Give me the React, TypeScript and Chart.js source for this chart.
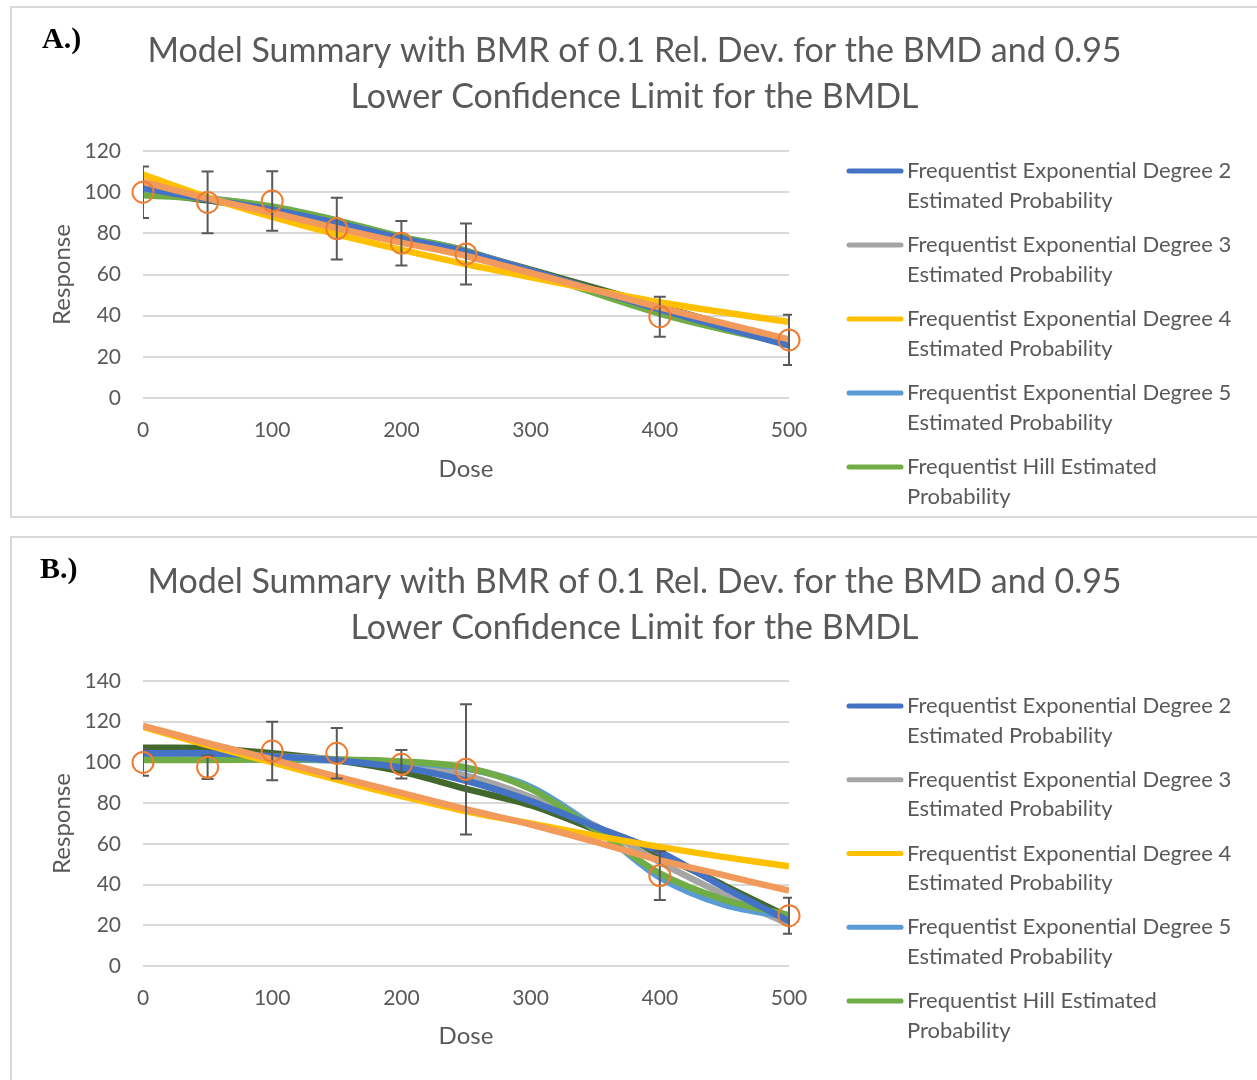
import React, { useEffect, useRef } from "react";
import { Chart, registerables } from "chart.js";

Chart.register(...registerables);

// ---------- data ----------
const obsDoses = [0, 50, 100, 150, 200, 250, 400, 500];
const curveDosesA = [0, 50, 100, 150, 200, 250, 400, 500];
const curveDosesB = [0, 50, 100, 150, 200, 250, 300, 350, 400, 450, 500];

const titleLines = [
  "Model Summary with BMR of 0.1 Rel. Dev. for the BMD and 0.95",
  "Lower Confidence Limit for the BMDL",
];
const xAxisTitle = "Dose";
const yAxisTitle = "Response";

const legendLines = [
  ["Frequentist Exponential Degree 2", "Estimated Probability"],
  ["Frequentist Exponential Degree 3", "Estimated Probability"],
  ["Frequentist Exponential Degree 4", "Estimated Probability"],
  ["Frequentist Exponential Degree 5", "Estimated Probability"],
  ["Frequentist Hill Estimated", "Probability"],
];
const extraLabels = [
  "Frequentist Linear Estimated Probability",
  "Frequentist Power Estimated Probability",
  "Observed Response",
];

// Chart A (curves at curveDosesA)
const obsA = [100, 95, 95.7, 82.3, 75.2, 70, 39.5, 28.2];
const errA = [12.5, 15, 14.5, 15, 10.8, 14.8, 9.7, 12.2];
const exp2A = [102, 96.5, 91.5, 85, 77.5, 71, 43, 25.5];
const exp3A = [101.5, 96.5, 91.5, 85, 77.5, 71, 43, 26];
const exp4A = [108.5, 97.5, 88, 79.5, 72, 65, 46.5, 37];
const exp5A = [99, 97, 92.5, 86, 78, 71.5, 41.5, 26.5];
const hillA = [98.5, 96.8, 93, 86.3, 78.3, 71.5, 41, 26];
const linearA = [105, 97, 90, 82.5, 75.5, 69, 44, 28.5];
const powerA = [100, 96, 91, 84.5, 77.5, 71, 44.5, 27];
const yMaxA = 120;

// Chart B (curves at curveDosesB)
const obsB = [100, 97.6, 105.6, 104.5, 99.1, 96.6, 44.4, 24.7];
const errB = [6.5, 5.7, 14.4, 12.4, 7, 32, 12, 8.8];
const exp2B = [104.5, 104.5, 103, 101, 97.5, 91, 81, 68.5, 56, 38.5, 22];
const exp3B = [104, 104, 103, 101.5, 99, 93.5, 83, 69, 51, 35, 20.5];
const exp4B = [117.5, 108.5, 100, 91.5, 83.5, 76, 70, 64, 58.5, 53.5, 49];
const exp5B = [101.5, 101.5, 101.5, 101, 100, 97, 88, 68, 43.5, 30, 24];
const hillB = [101.2, 101.2, 101.5, 101.5, 100.5, 97.5, 87, 67, 45.5, 32.5, 25];
const linearB = [118, 109.5, 101.5, 93, 85, 77, 69.5, 61, 52, 44.5, 37];
const powerB = [107.2, 107, 104.5, 101, 95.5, 87, 79, 67, 54.5, 39.5, 24];
const yMaxB = 140;

// ---------- style ----------
const FONT = "Lato, 'Open Sans', sans-serif";
const TEXT = "#595959";
const GRID = "#D9D9D9";
const seriesColors = ["#4472C4", "#A5A5A5", "#FFC000", "#5B9BD5", "#70AD47"];
const linearColor = "#F29A5C";
const powerColor = "#43682B";
const obsColor = "#ED7D31";
const errColor = "#595959";

type Spec = {
  curveDoses: number[];
  obs: number[];
  err: number[];
  series: number[][]; // exp2, exp3, exp4, exp5, hill
  linear: number[];
  power: number[];
  yMax: number;
  height: number;
  legendTop: number;
  legendStep: number;
  legendLineGap: number;
  titlePadTop: number;
  titlePadBottom: number;
  padBottom: number;
  xTitlePadBottom: number;
};

const pts = (xs: number[], vals: number[]) => xs.map((d, i) => ({ x: d, y: vals[i] }));

const errorBarPlugin = {
  id: "errorBars",
  beforeDatasetDraw(chart: any, args: any) {
    const ds = chart.data.datasets[args.index];
    if (!ds.errorBars) return;
    const { ctx, chartArea } = chart;
    const xs = chart.scales.x;
    const ys = chart.scales.y;
    ctx.save();
    ctx.beginPath();
    ctx.rect(chartArea.left, chartArea.top - 40, chartArea.width + 3, chartArea.height + 80);
    ctx.clip();
    ctx.strokeStyle = errColor;
    ctx.lineWidth = 2;
    ds.data.forEach((p: any, i: number) => {
      const e = ds.errorBars[i];
      const px = xs.getPixelForValue(p.x);
      const yt = ys.getPixelForValue(p.y + e);
      const yb = ys.getPixelForValue(p.y - e);
      ctx.beginPath();
      ctx.moveTo(px, yt);
      ctx.lineTo(px, yb);
      ctx.moveTo(px - 6, yt);
      ctx.lineTo(px + 6, yt);
      ctx.moveTo(px - 6, yb);
      ctx.lineTo(px + 6, yb);
      ctx.stroke();
    });
    ctx.restore();
  },
};

function makeLegendPlugin(spec: Spec) {
  return {
    id: "sideLegend",
    afterDraw(chart: any) {
      const { ctx } = chart;
      const items = chart.data.datasets.filter((d: any) => d.legendLines);
      items.sort((a: any, b: any) => a.legendIndex - b.legendIndex);
      ctx.save();
      ctx.font = `22px ${FONT}`;
      ctx.fillStyle = TEXT;
      ctx.textBaseline = "middle";
      ctx.textAlign = "left";
      items.forEach((ds: any, i: number) => {
        const y = spec.legendTop + i * spec.legendStep;
        ctx.strokeStyle = ds.borderColor;
        ctx.lineWidth = 5;
        ctx.lineCap = "round";
        ctx.beginPath();
        ctx.moveTo(837, y);
        ctx.lineTo(889, y);
        ctx.stroke();
        ds.legendLines.forEach((t: string, j: number) => {
          ctx.fillText(t, 895, y + j * spec.legendLineGap);
        });
      });
      ctx.restore();
    },
  };
}

function lineDs(
  label: string,
  xs: number[],
  vals: number[],
  color: string,
  order: number,
  legendIdx?: number
) {
  const ds: any = {
    label,
    data: pts(xs, vals),
    borderColor: color,
    backgroundColor: color,
    borderWidth: 6.5,
    pointRadius: 0,
    pointHoverRadius: 0,
    tension: 0.3,
    fill: false,
    order,
  };
  if (legendIdx !== undefined) {
    ds.legendLines = legendLines[legendIdx];
    ds.legendIndex = legendIdx;
  }
  return ds;
}

function ChartBox({ spec }: { spec: Spec }) {
  const ref = useRef<HTMLCanvasElement>(null);
  useEffect(() => {
    if (!ref.current) return;
    const [e2, e3, e4, e5, hill] = spec.series;
    const cx = spec.curveDoses;
    const datasets: any[] = [
      {
        label: extraLabels[2],
        data: pts(obsDoses, spec.obs),
        errorBars: spec.err,
        showLine: false,
        pointRadius: 10.5,
        pointHoverRadius: 10.5,
        pointBorderWidth: 2,
        pointBorderColor: obsColor,
        pointBackgroundColor: "rgba(0,0,0,0)",
        borderColor: obsColor,
        order: 0,
        clip: false,
      },
      lineDs(extraLabels[0], cx, spec.linear, linearColor, 1),
      lineDs(legendLines[2].join(" "), cx, e4, seriesColors[2], 2, 2),
      lineDs(legendLines[0].join(" "), cx, e2, seriesColors[0], 3, 0),
      lineDs(legendLines[4].join(" "), cx, hill, seriesColors[4], 4, 4),
      lineDs(legendLines[3].join(" "), cx, e5, seriesColors[3], 5, 3),
      lineDs(legendLines[1].join(" "), cx, e3, seriesColors[1], 6, 1),
      lineDs(extraLabels[1], cx, spec.power, powerColor, 7),
    ];
    const chart = new Chart(ref.current, {
      type: "line",
      data: { datasets },
      plugins: [errorBarPlugin, makeLegendPlugin(spec)],
      options: {
        responsive: false,
        animation: false,
        events: [],
        layout: { padding: { left: 0, right: 0, top: 0, bottom: spec.padBottom } },
        plugins: {
          legend: { display: false },
          tooltip: { enabled: false },
          title: {
            display: true,
            text: titleLines,
            color: TEXT,
            font: { family: FONT, size: 34, weight: "normal", lineHeight: 46 / 34 },
            padding: { top: spec.titlePadTop, bottom: spec.titlePadBottom },
          },
        },
        scales: {
          x: {
            type: "linear",
            min: 0,
            max: 500,
            afterFit: (s: any) => {
              s.height = 90;
            },
            grid: { display: false, drawTicks: false },
            border: { display: false },
            ticks: {
              stepSize: 100,
              color: TEXT,
              padding: 20,
              font: { family: FONT, size: 21 },
            },
            title: {
              display: true,
              text: xAxisTitle,
              color: TEXT,
              font: { family: FONT, size: 24, lineHeight: 1.2 },
              padding: { top: 0, bottom: spec.xTitlePadBottom },
            },
          },
          y: {
            type: "linear",
            min: 0,
            max: spec.yMax,
            afterFit: (s: any) => {
              s.width = 131;
            },
            grid: { color: GRID, lineWidth: 2, drawTicks: false },
            border: { display: false },
            ticks: {
              stepSize: 20,
              color: TEXT,
              padding: 22,
              font: { family: FONT, size: 21 },
            },
            title: {
              display: true,
              text: yAxisTitle,
              color: TEXT,
              font: { family: FONT, size: 24, lineHeight: 1.2 },
              padding: { top: 35.6, bottom: 0 },
            },
          },
          // invisible right-hand axis that reserves room for the side legend
          legendSpace: {
            type: "linear",
            position: "right",
            display: true,
            afterFit: (s: any) => {
              s.width = 468;
            },
            grid: { display: false, drawTicks: false },
            border: { display: false },
            ticks: { display: false },
          },
        },
      } as any,
    });
    return () => chart.destroy();
  }, [spec]);
  return (
    <canvas
      ref={ref}
      width={1245}
      height={spec.height}
      style={{ position: "absolute", left: 0, top: 0, width: 1245, height: spec.height }}
    />
  );
}

const specA: Spec = {
  curveDoses: curveDosesA,
  obs: obsA,
  err: errA,
  series: [exp2A, exp3A, exp4A, exp5A, hillA],
  linear: linearA,
  power: powerA,
  yMax: yMaxA,
  height: 508,
  legendTop: 163,
  legendStep: 74,
  legendLineGap: 30,
  titlePadTop: 20,
  titlePadBottom: 31,
  padBottom: 28,
  xTitlePadBottom: 4.6,
};

const specB: Spec = {
  curveDoses: curveDosesB,
  obs: obsB,
  err: errB,
  series: [exp2B, exp3B, exp4B, exp5B, hillB],
  linear: linearB,
  power: powerB,
  yMax: yMaxB,
  height: 542,
  legendTop: 168,
  legendStep: 73.75,
  legendLineGap: 29.5,
  titlePadTop: 21,
  titlePadBottom: 30,
  padBottom: 24,
  xTitlePadBottom: 5.6,
};

const labelStyle: React.CSSProperties = {
  position: "absolute",
  fontFamily: "'Liberation Serif', 'Times New Roman', serif",
  fontWeight: "bold",
  fontSize: 30,
  lineHeight: "30px",
  color: "#000",
  whiteSpace: "nowrap",
};

export default function App() {
  return (
    <div
      style={{
        position: "fixed",
        left: 0,
        top: 0,
        width: 1257,
        height: 1080,
        overflow: "hidden",
        background: "#fff",
      }}
    >
      <div
        style={{
          position: "absolute",
          left: 10,
          top: 6,
          width: 1262,
          height: 508,
          border: "2px solid #D9D9D9",
        }}
      />
      <div style={{ position: "absolute", left: 12, top: 8, width: 1245, height: 508 }}>
        <ChartBox spec={specA} />
      </div>
      <div
        style={{
          position: "absolute",
          left: 10,
          top: 536,
          width: 1262,
          height: 600,
          border: "2px solid #D9D9D9",
        }}
      />
      <div style={{ position: "absolute", left: 12, top: 538, width: 1245, height: 542 }}>
        <ChartBox spec={specB} />
      </div>
      <div style={{ ...labelStyle, left: 42, top: 23 }}>A.)</div>
      <div style={{ ...labelStyle, left: 40, top: 553 }}>B.)</div>
    </div>
  );
}
